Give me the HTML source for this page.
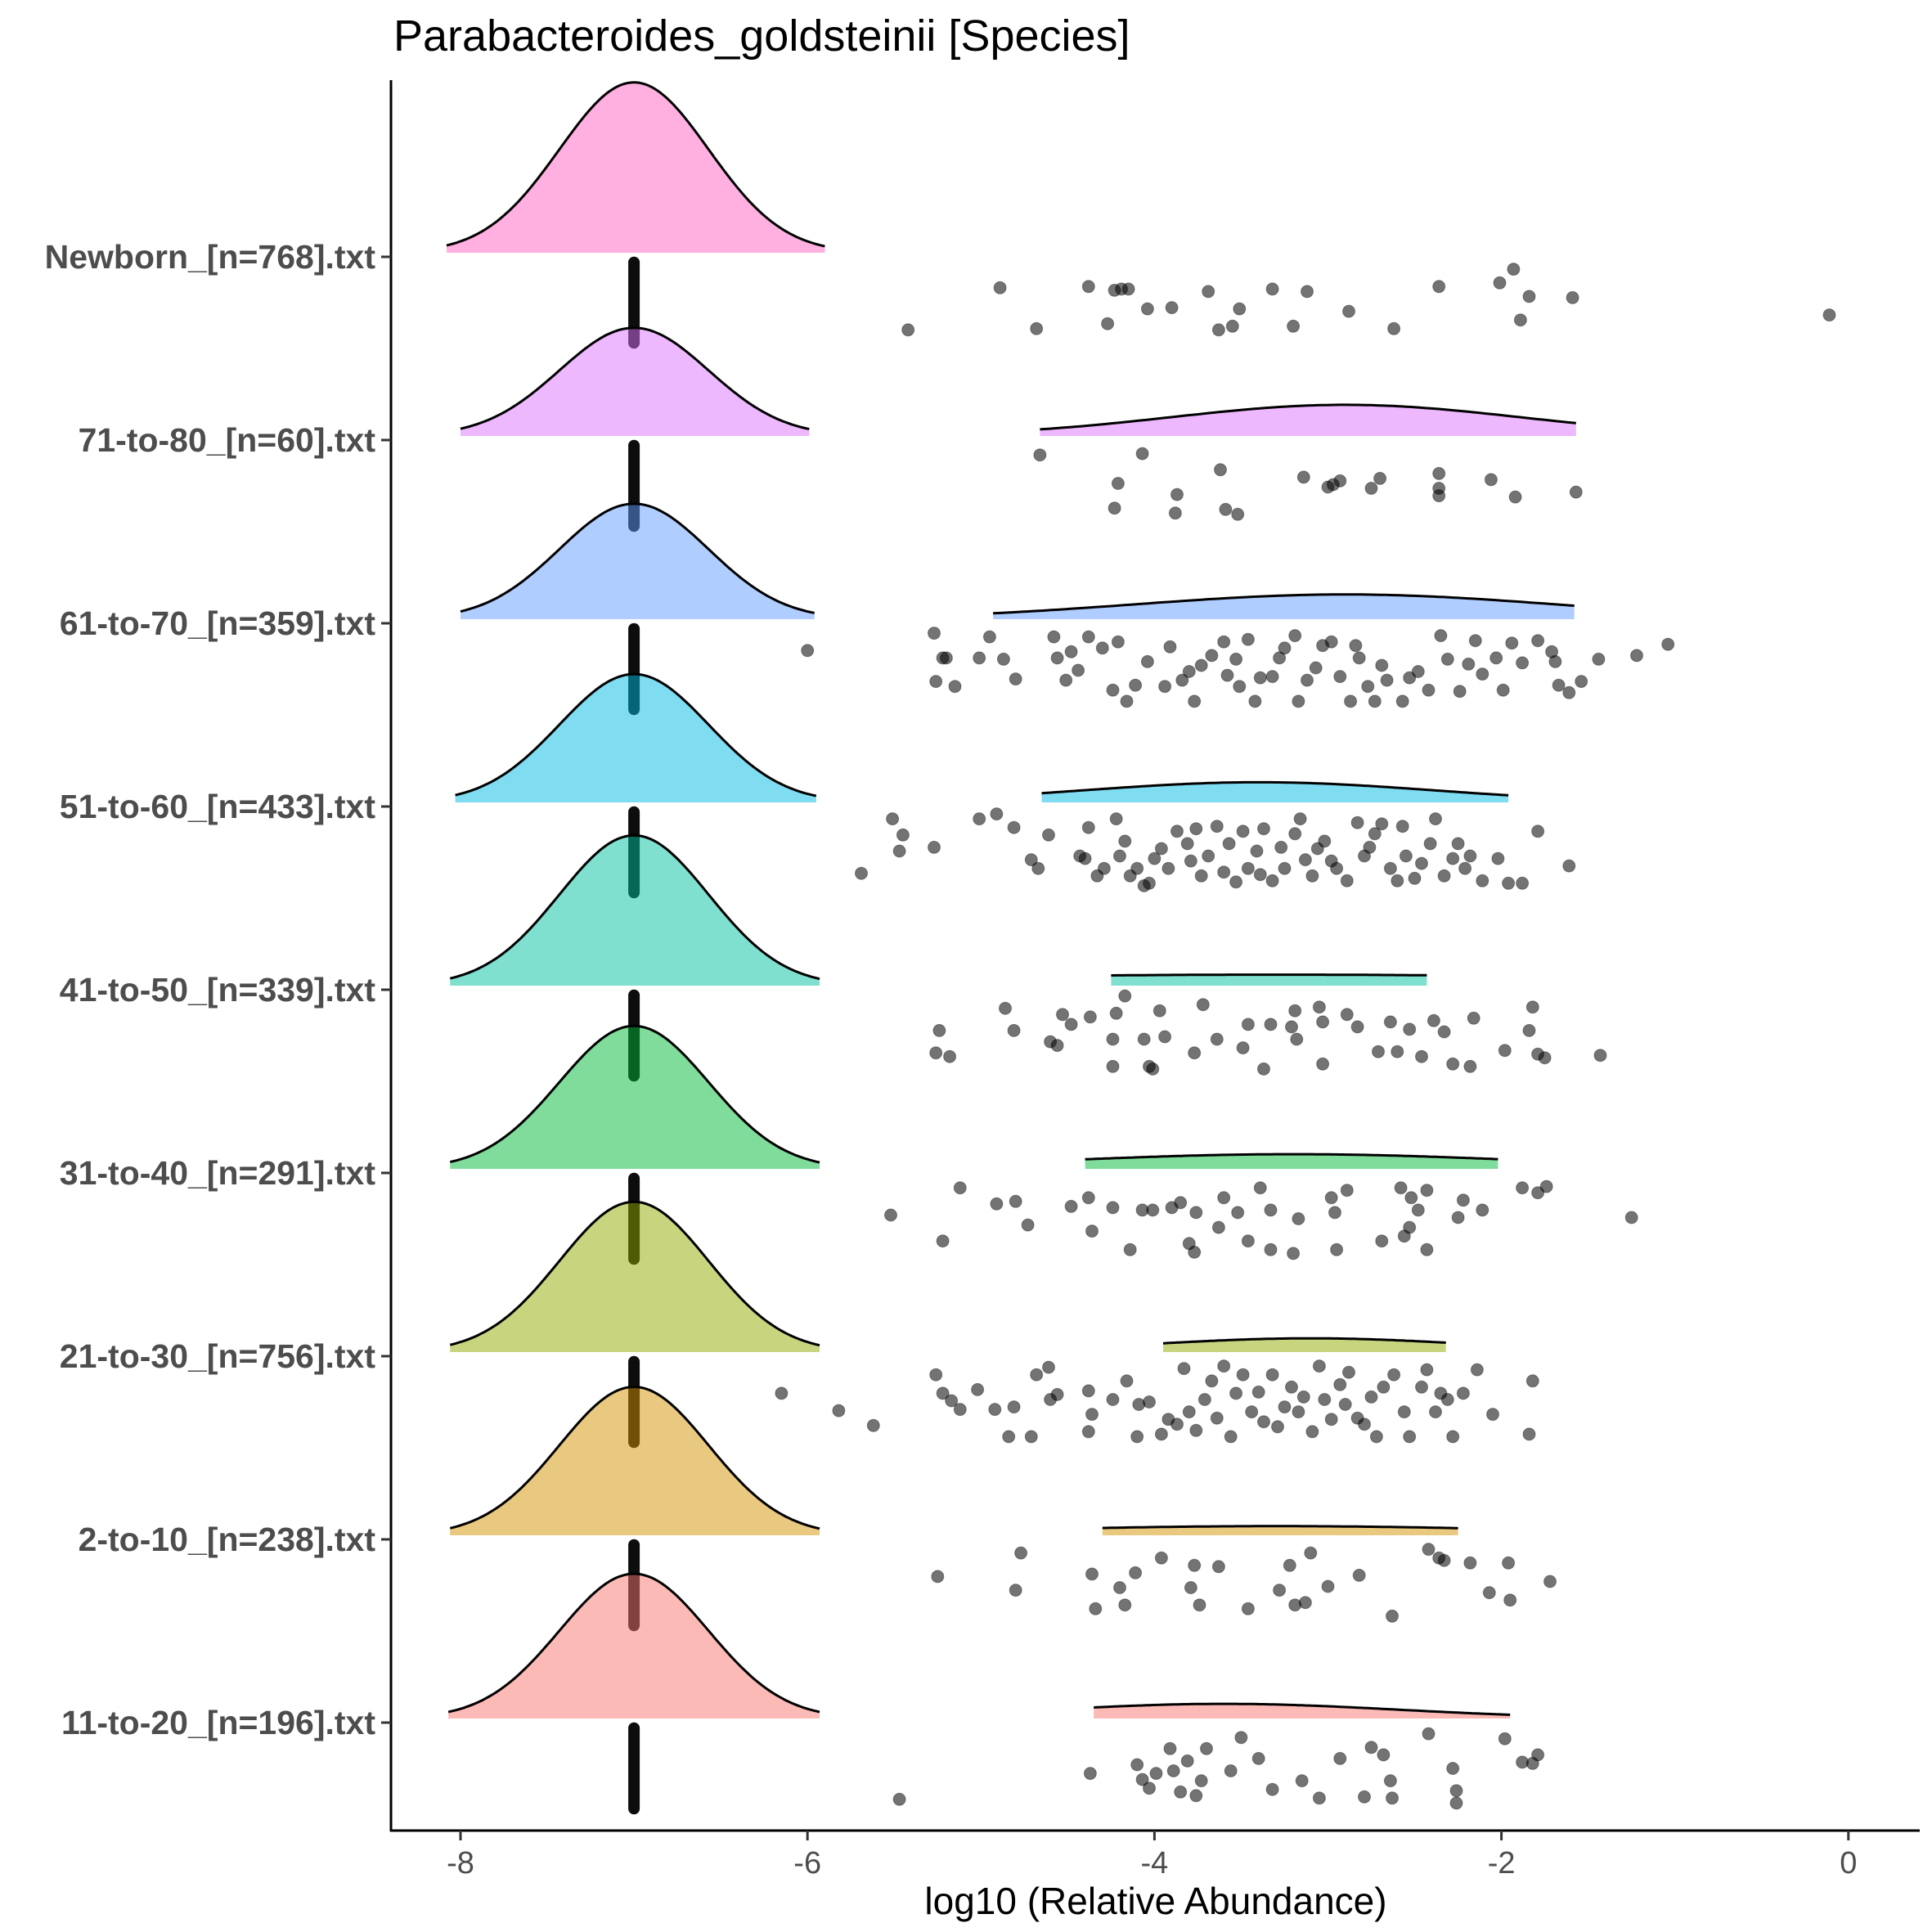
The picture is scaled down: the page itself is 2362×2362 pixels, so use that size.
<!DOCTYPE html>
<html><head><meta charset="utf-8"><style>
html,body{margin:0;padding:0;background:#fff;}
svg{display:block;}
text{font-family:"Liberation Sans",Arial,sans-serif;}
</style></head><body>
<svg id="chart" width="2362" height="2362" viewBox="0 0 2362 2362" xmlns="http://www.w3.org/2000/svg">
<text x="481" y="62" font-size="54" fill="#000">Parabacteroides_goldsteinii [Species]</text>
<g id="plot"></g>
<g id="axes"></g>
<text x="1413" y="2340" font-size="46" text-anchor="middle" fill="#000">log10 (Relative Abundance)</text>
</svg>
<script>
// categories bottom -> top
const categories = ["11-to-20_[n=196].txt","2-to-10_[n=238].txt","21-to-30_[n=756].txt","31-to-40_[n=291].txt","41-to-50_[n=339].txt","51-to-60_[n=433].txt","61-to-70_[n=359].txt","71-to-80_[n=60].txt","Newborn_[n=768].txt"];
const fillColors = ["#F8766D","#D39200","#93AA00","#00BA38","#00C19F","#00B9E3","#619CFF","#DB72FB","#FF61C3"];
const xTicks = [-8,-6,-4,-2,0];
const xTickLabels = ["-8","-6","-4","-2","0"];
// main (zero-abundance) hump: mean, sd, min, max, peak height (band units, band=1)
const mainMean = [-7.0,-7.0,-7.0,-7.0,-7.0,-7.0,-7.0,-7.0,-7.0];
const mainSd = [0.43,0.43,0.43,0.43,0.43,0.43,0.43,0.43,0.43];
const mainMin = [-8.07,-8.06,-8.06,-8.06,-8.06,-8.03,-8.0,-8.0,-8.08];
const mainMax = [-5.93,-5.93,-5.93,-5.93,-5.93,-5.95,-5.96,-5.99,-5.9];
const mainPeak = [0.79,0.81,0.82,0.78,0.82,0.70,0.63,0.59,0.93];
// secondary hump
const sideMean = [-3.6,-3.3,-3.1,-3.2,-3.3,-3.4,-2.9,-2.9,null];
const sideSd = [1.0,1.5,0.9,1.3,2.5,1.0,1.2,1.0,null];
const sideMin = [-4.35,-4.3,-3.95,-4.4,-4.25,-4.65,-4.93,-4.66,null];
const sideMax = [-1.95,-2.25,-2.32,-2.02,-2.43,-1.96,-1.58,-1.57,null];
const sidePeak = [0.08,0.05,0.075,0.08,0.06,0.11,0.135,0.17,null];
// zero-value stack at -7: jitter extent (band units)
const zeroValue = -7;
const zeroJitterMin = 0.03, zeroJitterMax = 0.47;
// non-zero points per group: values and vertical jitter (band units x148)
const vals0 = [-5.47,-4.37,-4.10,-4.07,-4.03,-3.99,-3.91,-3.89,-3.85,-3.81,-3.76,-3.73,-3.70,-3.56,-3.50,-3.40,-3.32,-3.15,-3.05,-2.93,-2.79,-2.75,-2.68,-2.64,-2.63,-2.42,-2.28,-2.26,-2.26,-1.98,-1.88,-1.82,-1.79];
const jit0 = [62,41,34,46,53,41,21,39,56,31,59,47,21,39,12,29,54,47,61,29,60,20,26,47,61,9,37,55,65,13,32,33,26];
const vals1 = [-5.25,-4.80,-4.77,-4.36,-4.34,-4.20,-4.17,-4.11,-3.96,-3.79,-3.77,-3.74,-3.63,-3.46,-3.28,-3.22,-3.19,-3.13,-3.10,-3.00,-2.82,-2.63,-2.42,-2.36,-2.33,-2.18,-2.07,-1.96,-1.95,-1.72];
const jit1 = [30,41,11,28,56,39,53,27,15,39,21,53,22,56,41,21,53,51,11,38,29,62,8,15,17,19,43,19,49,34];
const vals2 = [-6.15,-5.82,-5.62,-5.26,-5.22,-5.17,-5.12,-5.02,-4.92,-4.84,-4.81,-4.71,-4.68,-4.61,-4.60,-4.56,-4.38,-4.38,-4.36,-4.24,-4.16,-4.10,-4.09,-4.03,-3.96,-3.92,-3.87,-3.83,-3.80,-3.76,-3.71,-3.67,-3.64,-3.60,-3.56,-3.53,-3.49,-3.44,-3.40,-3.37,-3.32,-3.29,-3.25,-3.21,-3.17,-3.14,-3.09,-3.05,-3.02,-2.98,-2.93,-2.90,-2.88,-2.83,-2.79,-2.75,-2.72,-2.68,-2.62,-2.56,-2.53,-2.46,-2.43,-2.38,-2.35,-2.31,-2.28,-2.22,-2.14,-2.05,-1.84,-1.82];
const jit2 = [30,44,56,15,30,36,43,27,43,65,41,65,15,9,35,31,28,61,47,35,20,65,39,37,63,51,55,10,45,60,35,20,50,8,65,30,15,45,29,53,15,57,41,25,45,33,61,8,35,51,23,39,13,50,55,33,65,25,15,45,65,25,11,45,30,35,65,30,11,47,63,20];
const vals3 = [-5.52,-5.22,-5.12,-4.91,-4.80,-4.73,-4.48,-4.38,-4.36,-4.24,-4.14,-4.07,-4.01,-3.90,-3.85,-3.80,-3.77,-3.76,-3.63,-3.60,-3.52,-3.46,-3.39,-3.33,-3.33,-3.20,-3.17,-2.98,-2.96,-2.95,-2.89,-2.69,-2.58,-2.56,-2.52,-2.53,-2.48,-2.43,-2.43,-2.25,-2.22,-2.11,-1.88,-1.79,-1.74,-1.25];
const jit3 = [34,55,12,25,23,42,27,20,47,28,62,30,30,28,24,57,64,32,44,20,32,55,12,62,30,65,37,20,32,62,14,55,12,51,20,44,30,62,14,36,22,30,12,16,11,36];
const vals4 = [-5.26,-5.24,-5.18,-4.86,-4.81,-4.60,-4.56,-4.53,-4.48,-4.37,-4.24,-4.22,-4.24,-4.17,-4.06,-4.03,-4.01,-3.97,-3.94,-3.77,-3.72,-3.64,-3.49,-3.46,-3.37,-3.33,-3.21,-3.19,-3.18,-3.05,-3.03,-3.03,-2.89,-2.83,-2.71,-2.64,-2.60,-2.53,-2.46,-2.39,-2.33,-2.28,-2.18,-2.16,-1.98,-1.84,-1.82,-1.79,-1.75,-1.43];
const jit4 = [51,33,54,15,33,42,45,20,28,22,40,19,62,5,40,62,64,17,38,51,12,40,47,28,64,28,30,17,40,14,26,60,20,30,50,26,50,32,54,25,34,60,62,23,49,33,14,52,55,53];
const vals5 = [-5.69,-5.51,-5.45,-5.47,-5.27,-5.01,-4.91,-4.81,-4.71,-4.67,-4.61,-4.43,-4.40,-4.38,-4.33,-4.29,-4.22,-4.20,-4.17,-4.14,-4.10,-4.06,-4.03,-4.00,-3.96,-3.92,-3.87,-3.81,-3.79,-3.76,-3.73,-3.69,-3.64,-3.60,-3.57,-3.53,-3.49,-3.46,-3.41,-3.39,-3.37,-3.32,-3.27,-3.25,-3.19,-3.16,-3.13,-3.09,-3.06,-3.02,-2.98,-2.95,-2.89,-2.83,-2.79,-2.76,-2.73,-2.69,-2.64,-2.60,-2.57,-2.55,-2.50,-2.46,-2.41,-2.38,-2.33,-2.28,-2.25,-2.21,-2.18,-2.11,-2.02,-1.96,-1.88,-1.79,-1.61];
const jit5 = [54,10,23,36,33,10,6,17,43,50,23,40,42,17,56,50,10,40,28,56,50,64,62,42,34,50,20,30,44,18,56,40,16,53,30,61,20,50,36,55,18,60,33,50,22,10,43,56,34,28,44,50,60,13,40,33,22,14,50,60,16,40,58,46,30,10,56,42,30,50,40,60,42,62,62,20,48];
const vals6 = [-6.00,-5.27,-5.22,-5.20,-5.26,-5.15,-5.01,-4.95,-4.87,-4.80,-4.58,-4.56,-4.51,-4.48,-4.44,-4.38,-4.30,-4.21,-4.24,-4.16,-4.11,-4.04,-3.94,-3.91,-3.84,-3.80,-3.77,-3.73,-3.67,-3.60,-3.58,-3.53,-3.51,-3.46,-3.42,-3.39,-3.32,-3.28,-3.25,-3.19,-3.17,-3.12,-3.07,-3.03,-2.98,-2.93,-2.87,-2.84,-2.82,-2.77,-2.73,-2.69,-2.66,-2.57,-2.53,-2.48,-2.42,-2.35,-2.31,-2.24,-2.19,-2.15,-2.11,-2.03,-1.99,-1.94,-1.88,-1.79,-1.71,-1.69,-1.67,-1.61,-1.54,-1.44,-1.22,-1.04];
const jit6 = [22,8,28,28,47,51,28,11,29,45,11,28,46,23,38,11,20,15,54,63,50,31,51,19,46,39,63,34,26,15,42,29,51,13,63,44,43,28,20,10,63,46,36,18,15,43,63,18,28,51,63,34,46,63,44,39,54,10,29,55,33,14,41,28,54,16,32,14,23,31,50,56,47,29,26,17];
const vals7 = [-4.66,-4.07,-3.62,-4.21,-3.87,-4.23,-3.88,-3.59,-3.52,-3.14,-2.97,-2.93,-2.75,-2.70,-2.36,-2.36,-2.06,-1.92,-1.57,-2.36,-3.00];
const jit7 = [12,11,24,35,44,55,59,56,60,30,36,33,39,31,27,45,32,46,42,39,38];
const vals8 = [-5.42,-4.89,-4.68,-4.38,-4.27,-4.23,-4.19,-4.15,-4.04,-3.90,-3.69,-3.63,-3.55,-3.51,-3.32,-3.20,-3.12,-2.88,-2.62,-2.36,-2.01,-1.93,-1.89,-1.84,-1.59,-0.11];
const jit8 = [59,25,58,24,54,27,26,26,42,41,28,59,56,42,26,56,28,44,58,24,21,10,51,32,33,47];
const groupVals = [vals0,vals1,vals2,vals3,vals4,vals5,vals6,vals7,vals8];
const groupJit = [jit0,jit1,jit2,jit3,jit4,jit5,jit6,jit7,jit8];

const NS = "http://www.w3.org/2000/svg";
const X0 = 563, XPU = 212.1;
const Y0 = 2106, BAND = 224;
const JIT_UNIT = 148;
function xs(v){ return X0 + (v + 8) * XPU; }
function ys(i){ return Y0 - i * BAND; }
function mk(tag, attrs, parent){ const e = document.createElementNS(NS, tag); for (const k in attrs) e.setAttribute(k, attrs[k]); parent.appendChild(e); return e; }

const plot = document.getElementById('plot');
const axes = document.getElementById('axes');

function humpPath(base, mean, sd, lo, hi, peak){
  const pts = []; const n = 120;
  for (let k = 0; k <= n; k++){
    const v = lo + (hi - lo) * k / n;
    const d = Math.exp(-0.5 * Math.pow((v - mean) / sd, 2));
    pts.push([xs(v), base - d * peak * BAND]);
  }
  return pts;
}
function drawHump(i, pts, base){
  const line = pts.map((p, k) => (k ? 'L' : 'M') + p[0].toFixed(1) + ',' + p[1].toFixed(1)).join(' ');
  const area = line + ' L' + pts[pts.length-1][0].toFixed(1) + ',' + base + ' L' + pts[0][0].toFixed(1) + ',' + base + ' Z';
  const a = mk('path', {d: area, fill: fillColors[i], 'fill-opacity': 0.5, stroke: 'none'}, plot);
  
  
  const l = mk('path', {d: line, fill: 'none', stroke: '#000', 'stroke-width': 3}, plot);
  
  
}

for (let i = categories.length - 1; i >= 0; i--){
  const base = ys(i) - 5;
  drawHump(i, humpPath(base, mainMean[i], mainSd[i], mainMin[i], mainMax[i], mainPeak[i]), base);
  if (sideMean[i] !== null){
    drawHump(i, humpPath(base, sideMean[i], sideSd[i], sideMin[i], sideMax[i], sidePeak[i]), base);
  }
  const zb = mk('line', {x1: xs(zeroValue), x2: xs(zeroValue), y1: ys(i) + zeroJitterMin * BAND, y2: ys(i) + zeroJitterMax * BAND, stroke: '#000', 'stroke-width': 14, 'stroke-linecap': 'round', 'stroke-opacity': 0.95}, plot);
  
  
  const vs = groupVals[i], js = groupJit[i];
  for (let k = 0; k < vs.length; k++){
    const c = mk('circle', {cx: xs(vs[k]).toFixed(1), cy: (ys(i) + js[k] / JIT_UNIT * BAND).toFixed(1), r: 7.5, fill: '#000', 'fill-opacity': 0.55, stroke: '#000', 'stroke-opacity': 0.35, 'stroke-width': 1}, plot);
    
    
  }
}

const yl = mk('line', {x1: 478, x2: 478, y1: 98, y2: 2239, stroke: '#000', 'stroke-width': 3}, axes);


const xl = mk('line', {x1: 477, x2: 2347, y1: 2238, y2: 2238, stroke: '#000', 'stroke-width': 3}, axes);


for (let i = 0; i < categories.length; i++){
  const t = mk('line', {x1: 466, x2: 478, y1: ys(i), y2: ys(i), stroke: '#333', 'stroke-width': 3}, axes);
  
  
  const lb = mk('text', {x: 459, y: ys(i) + 14, 'font-size': 41, 'font-weight': 'bold', fill: '#4d4d4d', 'text-anchor': 'end'}, axes);
  lb.textContent = categories[i];
  
  
}
for (let k = 0; k < xTicks.length; k++){
  const t = mk('line', {x1: xs(xTicks[k]), x2: xs(xTicks[k]), y1: 2238, y2: 2250, stroke: '#333', 'stroke-width': 3}, axes);
  
  
  const lb = mk('text', {x: xs(xTicks[k]), y: 2290, 'font-size': 38, fill: '#4d4d4d', 'text-anchor': 'middle'}, axes);
  lb.textContent = xTickLabels[k];
  
  
}
</script>
</body></html>
